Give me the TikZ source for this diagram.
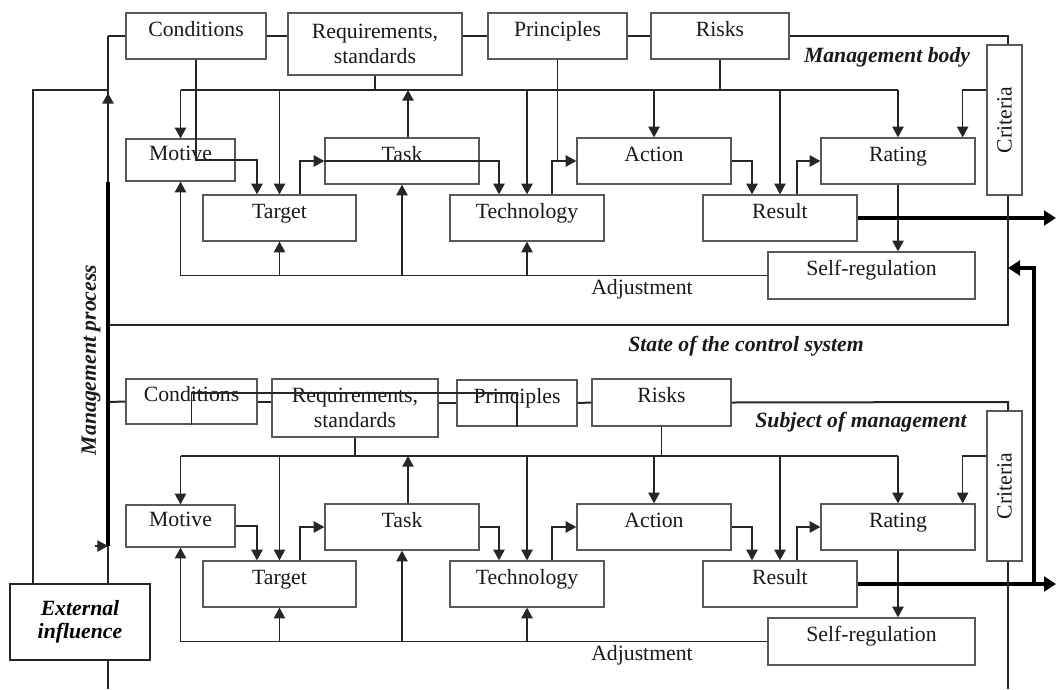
\documentclass[tikz,border=0pt]{standalone}
\usepackage{fontspec}
\usepackage{graphicx}
\setmainfont{Liberation Serif}
\usetikzlibrary{arrows.meta}
\newcommand\corepart[1]{%
\node[bx={109}{42}] (mot#1) at (180.5,160) {Motive};
\node[bx={153}{46}] (tar#1) at (279.5,218) {Target};
\node[bx={154}{46}] (task#1) at (402,161) {Task};
\node[bx={154}{46}] (tech#1) at (527,218) {Technology};
\node[bx={154}{46}] (act#1) at (654,161) {Action};
\node[bx={154}{46}] (res#1) at (780,218) {Result};
\node[bx={154}{46}] (rat#1) at (898,161) {Rating};
\node[bx={207}{47}] (self#1) at (871.5,275.5) {Self-regulation};
\node[critbox] (crit#1) at (1004.5,120) {\rotatebox{90}{Criteria}};
\coordinate (busL#1) at (180.5,90);
\coordinate (busR#1) at (898,90);
\coordinate (out#1) at (1056,218);
\coordinate (tu#1) at ([xshift=4.5pt]task#1.north);
\draw[conn] (busL#1) -- (busR#1);
\draw[arr] (busL#1) -- (mot#1.north);
\draw[arr] (tar#1.north |- busL#1) -- (tar#1.north);
\draw[arr] (tu#1) -- (tu#1 |- busL#1);
\draw[arr] (tech#1.north |- busL#1) -- (tech#1.north);
\draw[arr] (act#1.north |- busL#1) -- (act#1.north);
\draw[arr] (res#1.north |- busL#1) -- (res#1.north);
\draw[arr] (busR#1) -- (rat#1.north);
\draw[arr] (crit#1.west |- busL#1) -| ([xshift=-9.75pt]rat#1.north east);
\draw[arr] (mot#1.east) -| ([xshift=-16.875pt]tar#1.north);
\draw[arr] ([xshift=15.375pt]tar#1.north) |- (task#1.west);
\draw[arr] (task#1.east) -| ([xshift=-21pt]tech#1.north);
\draw[arr] ([xshift=18.75pt]tech#1.north) |- (act#1.west);
\draw[arr] (act#1.east) -| ([xshift=-21pt]res#1.north);
\draw[arr] ([xshift=12.75pt]res#1.north) |- (rat#1.west);
\draw[arr] (rat#1.south) -- (rat#1.south |- self#1.north);
\draw[thkarr] (res#1.east) -- (out#1);
\draw[arr] (self#1.west) -| (mot#1.south);
\draw[arr] (tar#1.south |- self#1.west) -- (tar#1.south);
\draw[arr] (task#1.south |- self#1.west) -- (task#1.south);
\draw[arr] (tech#1.south |- self#1.west) -- (tech#1.south);
\node[txt, anchor=base] (adj#1) at (642,294) {Adjustment};
}
\begin{document}
\begin{tikzpicture}[x=0.75pt,y=-0.75pt,
 boxbase/.style={draw=black!65, line width=0.95pt, inner sep=0pt, text=black!90,
   font=\fontsize{16.3}{18.75}\selectfont},
 bx/.style 2 args={boxbase, minimum width=#1*0.75pt, minimum height=#2*0.75pt,
   text height=1.5ex, text depth=1.5ex},
 bxtwo/.style 2 args={boxbase, minimum width=#1*0.75pt, minimum height=#2*0.75pt, align=center},
 critbox/.style={boxbase, minimum width=35*0.75pt, minimum height=150*0.75pt},
 conn/.style={draw=black!85, line width=0.95pt},
 arr/.style={conn, -{Triangle[length=8pt,width=8.5pt]}},
 frame/.style={draw=black!85, line width=1.5pt},
 thk/.style={draw=black, line width=3pt},
 thkarr/.style={thk, -{Triangle[length=9pt,width=11pt]}},
 lbl/.style={font=\fontsize{16.3}{19}\selectfont\bfseries\itshape, inner sep=0pt, text=black!90},
 txt/.style={font=\fontsize{16.3}{19}\selectfont, inner sep=0pt, text=black!90},
 extbox/.style={draw=black!85, line width=1.5pt, minimum width=140*0.75pt,
   minimum height=76*0.75pt, align=center, inner sep=0pt,
   font=\fontsize{16.3}{17.5}\selectfont\bfseries\itshape}]
\useasboundingbox (0,0) rectangle (1056,689);

% ---------- upper block: management body ----------
\node[bx={140}{46}] (cona) at (196,36) {Conditions};
\node[bxtwo={174}{62}] (reqa) at (375,44) {Requirements,\\standards};
\node[bx={139}{46}] (prina) at (557.5,36) {Principles};
\node[bx={138}{46}] (riska) at (720,36) {Risks};
\corepart{a}
\node[lbl, anchor=base] (mba) at (887,62) {Management body};
\draw[conn] (reqa.south) -- (reqa.south |- busLa);
\draw[conn] (riska.south) -- (riska.south |- busLa);
\draw[conn] (cona.south) |- (mota.east);
\draw[conn] (taska.west) -- (taska.east);
\draw[conn] (prina.south) -- (prina.south |- acta.west);

\coordinate (lfa) at (108,36);
\coordinate (fra) at (1008,36);
\coordinate (fba) at (1008,325);
\coordinate (lba) at (108,325);
\draw[frame] (cona.west) -- (lfa);
\draw[frame] (cona.east) -- (cona.east -| reqa.west);
\draw[frame] (reqa.east |- prina.west) -- (prina.west);
\draw[frame] (prina.east) -- (riska.west);
\draw[frame] (riska.east) -- (fra) -- (fra |- crita.north);
\draw[frame] (crita.south -| fra) -- (fba) -- (lba);

\node[lbl, anchor=base] (state) at (746,351) {State of the control system};

% ---------- lower block: subject of management ----------
\node[bx={131}{45}] (conb) at (191.5,401.5) {Conditions};
\node[bxtwo={166}{58}] (reqb) at (355,408) {Requirements,\\standards};
\node[bx={120}{46}] (prinb) at (517,403) {Principles};
\node[bx={139}{47}] (riskb) at (661.5,402.5) {Risks};
\begin{scope}[shift={(0,366)}]
\corepart{b}
\end{scope}
\node[lbl, anchor=base] (sub) at (861,427) {Subject of management};
\draw[conn] (reqb.south) -- (reqb.south |- busLb);
\draw[conn] (riskb.south) -- (riskb.south |- busLb);
\coordinate (wk) at ([yshift=6.375pt]conb.center);
\draw[conn] (conb.south) -- (wk) -| (prinb.south);

\coordinate (lfb) at (108,402);
\coordinate (frb) at (1008,402);
\coordinate (fbb) at (1008,689);
\draw[frame] (lfb) -- (conb.west);
\draw[frame] (conb.east) -- (conb.east -| reqb.west);
\draw[frame] (reqb.east |- prinb.west) -- (prinb.west);
\draw[frame] (prinb.east) -- (riskb.west);
\draw[frame] (riskb.east) -- (frb) -- (frb |- critb.north);
\draw[frame] (critb.south -| frb) -- (fbb);

% ---------- left side ----------
\node[extbox] (ext) at (80,622) {External\\influence};
\coordinate (J) at (108,90);
\coordinate (atip) at (108,93);
\coordinate (L2) at (108,182);
\coordinate (L3) at (108,546);
\coordinate (bot) at (108,689);
\draw[frame] (lfa) -- (L2);
\draw[frame, -{Triangle[length=8pt,width=8.5pt]}] (L2) -- (atip);
\draw[thk] (L2) -- (L3);
\draw[frame] ([xshift=-47*0.75pt]ext.north) |- (J);
\draw[conn] ([xshift=28*0.75pt]ext.north) -- (L3);
\draw[arr] ([xshift=-13*0.75pt]L3) -- (L3);
\draw[conn] ([xshift=28*0.75pt]ext.south) -- (bot);
\node[lbl, rotate=90] (mp) at (91,360) {Management process};

% ---------- right side ----------
\coordinate (rin) at (1008,268);
\draw[thkarr] ([xshift=176*0.75pt]resb.east) |- (rin);
\end{tikzpicture}
\end{document}
